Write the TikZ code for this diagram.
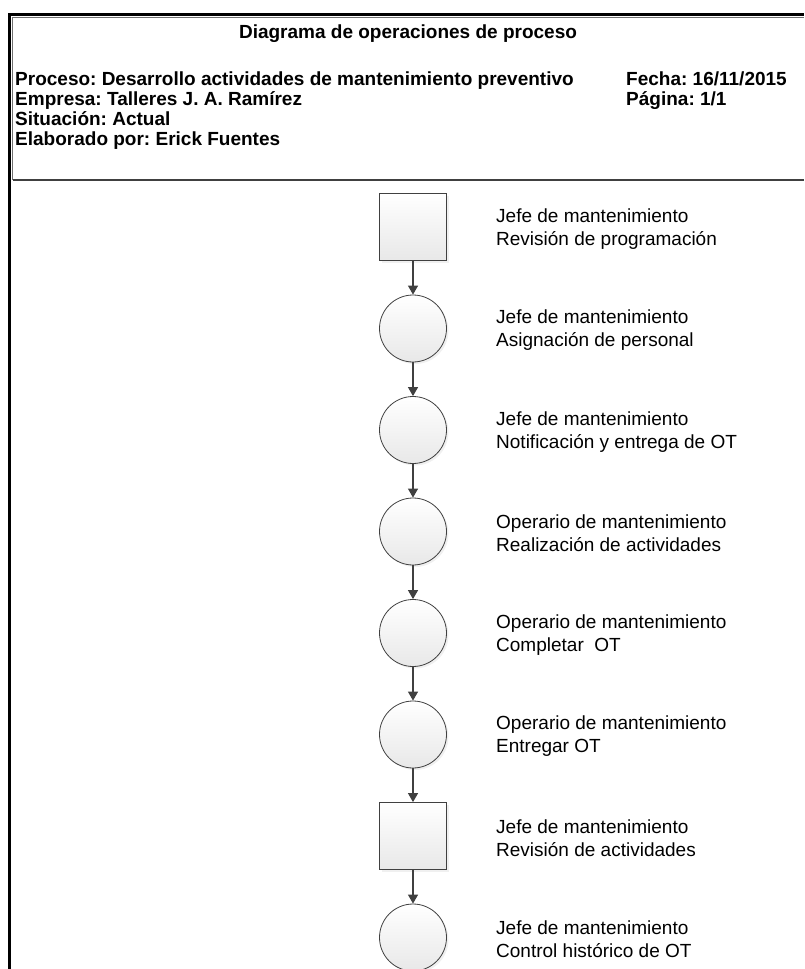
\documentclass[tikz,border=0pt]{standalone}
\usepackage{fontspec}
\setmainfont{Liberation Sans}
\usetikzlibrary{arrows.meta,shadows}
\frenchspacing

\definecolor{linegray}{HTML}{404040}
\definecolor{framegray}{HTML}{707070}

\tikzset{
  opbase/.style={draw=linegray, line width=.8pt, minimum size=67pt, inner sep=0pt,
    top color=white, bottom color=black!9,
    drop shadow={shadow xshift=2pt, shadow yshift=-2pt, opacity=.12}},
  opsq/.style={opbase, rectangle},
  opcirc/.style={opbase, circle},
  oplabel/.style={anchor=west, align=left, inner sep=0pt,
    font=\fontsize{19}{23}\selectfont},
  headtxt/.style={anchor=base west, inner sep=0pt,
    font=\fontsize{19}{20}\selectfont\bfseries},
  flow/.style={draw=linegray, line width=1.2pt,
    -{Triangle[width=10pt,length=9pt]}}
}

\begin{document}
\begin{tikzpicture}[x=1pt,y=-1pt]
      \useasboundingbox (0,0) rectangle (804,969);
      \pgfmathsetmacro{\cx}{413}
      \pgfmathsetmacro{\tx}{496}
      \pgfmathsetmacro{\dy}{101.5}
      \pgfmathsetmacro{\ya}{227}

      % marco
      \draw[line width=2.5pt] (9.5,969) -- (9.5,14.5) -- (804,14.5);
      \draw[framegray, line width=1pt] (804,17.5) -- (12.5,17.5) -- (12.5,180);
      \draw[linegray, line width=1.2pt] (12.5,180) -- (804,180);

      % encabezado
      \node[headtxt, anchor=base] (title) at (408,38) {Diagrama de operaciones de proceso};
      \node[headtxt] (proc) at (15,85) {Proceso: Desarrollo actividades de mantenimiento preventivo};
      \node[headtxt] (emp) at (15,105) {Empresa: Talleres J. A. Ramírez};
      \node[headtxt] (sit) at (15,125) {Situación: Actual};
      \node[headtxt] (elab) at (15,145) {Elaborado por: Erick Fuentes};
      \node[headtxt] (fecha) at (626,85) {Fecha: 16/11/2015};
      \node[headtxt] (pag) at (626,105) {Página: 1/1};

      % operaciones
      \node[opsq] (S1) at (\cx,\ya) {};
      \node[opcirc] (C2) at (\cx,\ya + \dy) {};
      \node[opcirc] (C3) at (\cx,\ya + \dy * 2) {};
      \node[opcirc] (C4) at (\cx,\ya + \dy * 3) {};
      \node[opcirc] (C5) at (\cx,\ya + \dy * 4) {};
      \node[opcirc] (C6) at (\cx,\ya + \dy * 5) {};
      \node[opsq] (S7) at (\cx,\ya + \dy * 6) {};
      \node[opcirc] (C8) at (\cx,\ya + \dy * 7) {};

      \node[oplabel] (L1) at (\tx,\ya + 2) {Jefe de mantenimiento\\Revisión de programación};
      \node[oplabel] (L2) at (\tx,\ya + \dy + 2) {Jefe de mantenimiento\\Asignación de personal};
      \node[oplabel] (L3) at (\tx,\ya + \dy * 2 + 2) {Jefe de mantenimiento\\Notificación y entrega de OT};
      \node[oplabel] (L4) at (\tx,\ya + \dy * 3 + 2) {Operario de mantenimiento\\Realización de actividades};
      \node[oplabel] (L5) at (\tx,\ya + \dy * 4 + 2) {Operario de mantenimiento\\Completar\ \ OT};
      \node[oplabel] (L6) at (\tx,\ya + \dy * 5 + 2) {Operario de mantenimiento\\Entregar OT};
      \node[oplabel] (L7) at (\tx,\ya + \dy * 6 + 2) {Jefe de mantenimiento\\Revisión de actividades};
      \node[oplabel] (L8) at (\tx,\ya + \dy * 7 + 2) {Jefe de mantenimiento\\Control histórico de OT};

      \draw[flow] (S1) -- (C2);
      \draw[flow] (C2) -- (C3);
      \draw[flow] (C3) -- (C4);
      \draw[flow] (C4) -- (C5);
      \draw[flow] (C5) -- (C6);
      \draw[flow] (C6) -- (S7);
      \draw[flow] (S7) -- (C8);
    \end{tikzpicture}
\end{document}
